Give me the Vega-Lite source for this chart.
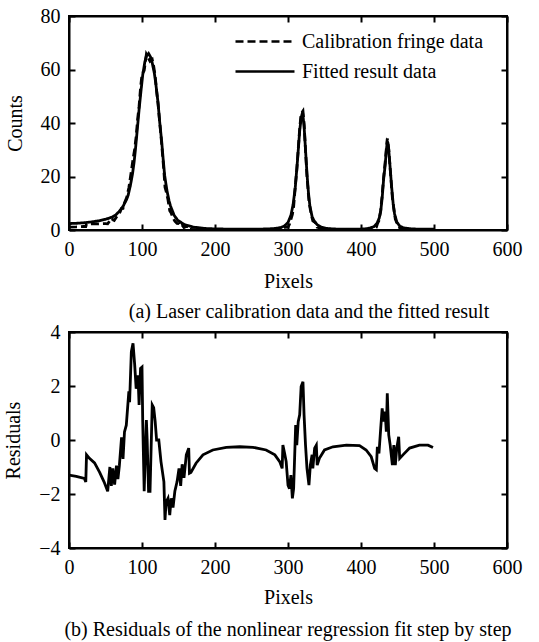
{
  "$schema": "https://vega.github.io/schema/vega-lite/v6.json",
  "background": "white",
  "padding": {"left": 2, "top": 5, "right": 5, "bottom": 3},
  "spacing": -2,
  "config": {
    "view": {"stroke": "black", "strokeWidth": 2},
    "font": "Liberation Serif",
    "axis": {
      "grid": false,
      "domainColor": "black",
      "domainWidth": 2,
      "tickColor": "black",
      "tickWidth": 2,
      "tickSize": -6,
      "labelFlush": false,
      "labelFont": "Liberation Serif",
      "labelFontSize": 20,
      "labelColor": "black",
      "labelPadding": 15,
      "titleFont": "Liberation Serif",
      "titleFontSize": 20,
      "titleFontWeight": "normal",
      "titleColor": "black"
    },
    "legend": {
      "labelFont": "Liberation Serif",
      "labelFontSize": 20,
      "labelColor": "black",
      "labelLimit": 0
    },
    "title": {
      "font": "Liberation Serif",
      "fontSize": 20,
      "fontWeight": "normal",
      "color": "black"
    }
  },
  "datasets": {
    "spectrum": [
      {"pixel": 0, "counts": 1.1, "series": "Calibration fringe data"},
      {"pixel": 10, "counts": 1.15, "series": "Calibration fringe data"},
      {"pixel": 20, "counts": 1.3, "series": "Calibration fringe data"},
      {"pixel": 23, "counts": 1.25, "series": "Calibration fringe data"},
      {"pixel": 24, "counts": 2.25, "series": "Calibration fringe data"},
      {"pixel": 30, "counts": 2.3, "series": "Calibration fringe data"},
      {"pixel": 40, "counts": 2.3, "series": "Calibration fringe data"},
      {"pixel": 50, "counts": 2.4, "series": "Calibration fringe data"},
      {"pixel": 53, "counts": 2.3, "series": "Calibration fringe data"},
      {"pixel": 56, "counts": 3.5, "series": "Calibration fringe data"},
      {"pixel": 58, "counts": 3.0, "series": "Calibration fringe data"},
      {"pixel": 60, "counts": 3.85, "series": "Calibration fringe data"},
      {"pixel": 62, "counts": 3.55, "series": "Calibration fringe data"},
      {"pixel": 65, "counts": 4.85, "series": "Calibration fringe data"},
      {"pixel": 69, "counts": 6.05, "series": "Calibration fringe data"},
      {"pixel": 72, "counts": 8.1, "series": "Calibration fringe data"},
      {"pixel": 74, "counts": 8.1, "series": "Calibration fringe data"},
      {"pixel": 76, "counts": 10.1, "series": "Calibration fringe data"},
      {"pixel": 79, "counts": 12.1, "series": "Calibration fringe data"},
      {"pixel": 82, "counts": 15.8, "series": "Calibration fringe data"},
      {"pixel": 85, "counts": 21.3, "series": "Calibration fringe data"},
      {"pixel": 88, "counts": 27, "series": "Calibration fringe data"},
      {"pixel": 90, "counts": 30.3, "series": "Calibration fringe data"},
      {"pixel": 92, "counts": 35, "series": "Calibration fringe data"},
      {"pixel": 94, "counts": 41.4, "series": "Calibration fringe data"},
      {"pixel": 96, "counts": 46.3, "series": "Calibration fringe data"},
      {"pixel": 98, "counts": 53.1, "series": "Calibration fringe data"},
      {"pixel": 100, "counts": 58.2, "series": "Calibration fringe data"},
      {"pixel": 101, "counts": 58.7, "series": "Calibration fringe data"},
      {"pixel": 103, "counts": 59.6, "series": "Calibration fringe data"},
      {"pixel": 106, "counts": 65.7, "series": "Calibration fringe data"},
      {"pixel": 109, "counts": 64.1, "series": "Calibration fringe data"},
      {"pixel": 111, "counts": 63.1, "series": "Calibration fringe data"},
      {"pixel": 114, "counts": 63.8, "series": "Calibration fringe data"},
      {"pixel": 116, "counts": 61.2, "series": "Calibration fringe data"},
      {"pixel": 118, "counts": 57.7, "series": "Calibration fringe data"},
      {"pixel": 120, "counts": 52, "series": "Calibration fringe data"},
      {"pixel": 122, "counts": 47.1, "series": "Calibration fringe data"},
      {"pixel": 126, "counts": 35.2, "series": "Calibration fringe data"},
      {"pixel": 130, "counts": 22, "series": "Calibration fringe data"},
      {"pixel": 131.5, "counts": 16, "series": "Calibration fringe data"},
      {"pixel": 133, "counts": 14.5, "series": "Calibration fringe data"},
      {"pixel": 135.6, "counts": 11.3, "series": "Calibration fringe data"},
      {"pixel": 138, "counts": 7.2, "series": "Calibration fringe data"},
      {"pixel": 140, "counts": 6.3, "series": "Calibration fringe data"},
      {"pixel": 142.5, "counts": 4.5, "series": "Calibration fringe data"},
      {"pixel": 145, "counts": 3.3, "series": "Calibration fringe data"},
      {"pixel": 148, "counts": 2.45, "series": "Calibration fringe data"},
      {"pixel": 150.7, "counts": 2.35, "series": "Calibration fringe data"},
      {"pixel": 153, "counts": 1.3, "series": "Calibration fringe data"},
      {"pixel": 155, "counts": 1.8, "series": "Calibration fringe data"},
      {"pixel": 157.5, "counts": 0.9, "series": "Calibration fringe data"},
      {"pixel": 160.7, "counts": 1.3, "series": "Calibration fringe data"},
      {"pixel": 164, "counts": 1.2, "series": "Calibration fringe data"},
      {"pixel": 165, "counts": 0.2, "series": "Calibration fringe data"},
      {"pixel": 174, "counts": 0.1, "series": "Calibration fringe data"},
      {"pixel": 183.5, "counts": 0.1, "series": "Calibration fringe data"},
      {"pixel": 197, "counts": 0.05, "series": "Calibration fringe data"},
      {"pixel": 215, "counts": 0.08, "series": "Calibration fringe data"},
      {"pixel": 250, "counts": 0.03, "series": "Calibration fringe data"},
      {"pixel": 282, "counts": 0, "series": "Calibration fringe data"},
      {"pixel": 289, "counts": 0, "series": "Calibration fringe data"},
      {"pixel": 292, "counts": 0.05, "series": "Calibration fringe data"},
      {"pixel": 293, "counts": 1.0, "series": "Calibration fringe data"},
      {"pixel": 295.4, "counts": 1.0, "series": "Calibration fringe data"},
      {"pixel": 300, "counts": 1.1, "series": "Calibration fringe data"},
      {"pixel": 302, "counts": 2.2, "series": "Calibration fringe data"},
      {"pixel": 306, "counts": 5.8, "series": "Calibration fringe data"},
      {"pixel": 307.7, "counts": 8.7, "series": "Calibration fringe data"},
      {"pixel": 310.5, "counts": 18, "series": "Calibration fringe data"},
      {"pixel": 312, "counts": 22.3, "series": "Calibration fringe data"},
      {"pixel": 314, "counts": 30.2, "series": "Calibration fringe data"},
      {"pixel": 316, "counts": 37.9, "series": "Calibration fringe data"},
      {"pixel": 318, "counts": 43.5, "series": "Calibration fringe data"},
      {"pixel": 320.5, "counts": 44.5, "series": "Calibration fringe data"},
      {"pixel": 322, "counts": 39.9, "series": "Calibration fringe data"},
      {"pixel": 324, "counts": 29.8, "series": "Calibration fringe data"},
      {"pixel": 326, "counts": 20, "series": "Calibration fringe data"},
      {"pixel": 328.7, "counts": 10.8, "series": "Calibration fringe data"},
      {"pixel": 330.6, "counts": 7.6, "series": "Calibration fringe data"},
      {"pixel": 333, "counts": 4.5, "series": "Calibration fringe data"},
      {"pixel": 334, "counts": 3.45, "series": "Calibration fringe data"},
      {"pixel": 336.5, "counts": 3.0, "series": "Calibration fringe data"},
      {"pixel": 338.8, "counts": 2.3, "series": "Calibration fringe data"},
      {"pixel": 340, "counts": 1.07, "series": "Calibration fringe data"},
      {"pixel": 343, "counts": 0.8, "series": "Calibration fringe data"},
      {"pixel": 350, "counts": 0.43, "series": "Calibration fringe data"},
      {"pixel": 361.6, "counts": 0.2, "series": "Calibration fringe data"},
      {"pixel": 380, "counts": 0.1, "series": "Calibration fringe data"},
      {"pixel": 407, "counts": 0.08, "series": "Calibration fringe data"},
      {"pixel": 414, "counts": 0.23, "series": "Calibration fringe data"},
      {"pixel": 418.7, "counts": 0.35, "series": "Calibration fringe data"},
      {"pixel": 421, "counts": 1.0, "series": "Calibration fringe data"},
      {"pixel": 422.4, "counts": 2.25, "series": "Calibration fringe data"},
      {"pixel": 424.6, "counts": 3.5, "series": "Calibration fringe data"},
      {"pixel": 427, "counts": 7.4, "series": "Calibration fringe data"},
      {"pixel": 429, "counts": 13.2, "series": "Calibration fringe data"},
      {"pixel": 431, "counts": 19.7, "series": "Calibration fringe data"},
      {"pixel": 433, "counts": 25, "series": "Calibration fringe data"},
      {"pixel": 434.7, "counts": 30.3, "series": "Calibration fringe data"},
      {"pixel": 436, "counts": 34.2, "series": "Calibration fringe data"},
      {"pixel": 438, "counts": 30.2, "series": "Calibration fringe data"},
      {"pixel": 440, "counts": 22.8, "series": "Calibration fringe data"},
      {"pixel": 443, "counts": 12, "series": "Calibration fringe data"},
      {"pixel": 445, "counts": 7.8, "series": "Calibration fringe data"},
      {"pixel": 447, "counts": 4.1, "series": "Calibration fringe data"},
      {"pixel": 449, "counts": 2.7, "series": "Calibration fringe data"},
      {"pixel": 451.6, "counts": 2.1, "series": "Calibration fringe data"},
      {"pixel": 453, "counts": 0.8, "series": "Calibration fringe data"},
      {"pixel": 457.5, "counts": 0.3, "series": "Calibration fringe data"},
      {"pixel": 466.6, "counts": 0.15, "series": "Calibration fringe data"},
      {"pixel": 480, "counts": 0.11, "series": "Calibration fringe data"},
      {"pixel": 491.8, "counts": 0.11, "series": "Calibration fringe data"},
      {"pixel": 498.6, "counts": 0.02, "series": "Calibration fringe data"},
      {"pixel": 0, "counts": 2.4, "series": "Fitted result data"},
      {"pixel": 10, "counts": 2.5, "series": "Fitted result data"},
      {"pixel": 20, "counts": 2.7, "series": "Fitted result data"},
      {"pixel": 30, "counts": 3.0, "series": "Fitted result data"},
      {"pixel": 40, "counts": 3.4, "series": "Fitted result data"},
      {"pixel": 50, "counts": 4.0, "series": "Fitted result data"},
      {"pixel": 59, "counts": 4.8, "series": "Fitted result data"},
      {"pixel": 64, "counts": 5.6, "series": "Fitted result data"},
      {"pixel": 69, "counts": 7, "series": "Fitted result data"},
      {"pixel": 74, "counts": 8.8, "series": "Fitted result data"},
      {"pixel": 79, "counts": 11.5, "series": "Fitted result data"},
      {"pixel": 81, "counts": 13, "series": "Fitted result data"},
      {"pixel": 84, "counts": 16.5, "series": "Fitted result data"},
      {"pixel": 87, "counts": 21, "series": "Fitted result data"},
      {"pixel": 89, "counts": 25, "series": "Fitted result data"},
      {"pixel": 91, "counts": 30, "series": "Fitted result data"},
      {"pixel": 93, "counts": 36, "series": "Fitted result data"},
      {"pixel": 96, "counts": 45, "series": "Fitted result data"},
      {"pixel": 99, "counts": 53, "series": "Fitted result data"},
      {"pixel": 101, "counts": 58, "series": "Fitted result data"},
      {"pixel": 104, "counts": 63, "series": "Fitted result data"},
      {"pixel": 106, "counts": 65, "series": "Fitted result data"},
      {"pixel": 109, "counts": 66, "series": "Fitted result data"},
      {"pixel": 112, "counts": 64.5, "series": "Fitted result data"},
      {"pixel": 114, "counts": 62.5, "series": "Fitted result data"},
      {"pixel": 117, "counts": 58.5, "series": "Fitted result data"},
      {"pixel": 119, "counts": 54.5, "series": "Fitted result data"},
      {"pixel": 122, "counts": 47.5, "series": "Fitted result data"},
      {"pixel": 124, "counts": 41, "series": "Fitted result data"},
      {"pixel": 127, "counts": 33, "series": "Fitted result data"},
      {"pixel": 129, "counts": 26.5, "series": "Fitted result data"},
      {"pixel": 131, "counts": 20.5, "series": "Fitted result data"},
      {"pixel": 134, "counts": 15, "series": "Fitted result data"},
      {"pixel": 137, "counts": 11, "series": "Fitted result data"},
      {"pixel": 139, "counts": 9, "series": "Fitted result data"},
      {"pixel": 144, "counts": 5.5, "series": "Fitted result data"},
      {"pixel": 149, "counts": 3.6, "series": "Fitted result data"},
      {"pixel": 159, "counts": 1.9, "series": "Fitted result data"},
      {"pixel": 170, "counts": 1.1, "series": "Fitted result data"},
      {"pixel": 185, "counts": 0.6, "series": "Fitted result data"},
      {"pixel": 200, "counts": 0.4, "series": "Fitted result data"},
      {"pixel": 230, "counts": 0.3, "series": "Fitted result data"},
      {"pixel": 260, "counts": 0.3, "series": "Fitted result data"},
      {"pixel": 280, "counts": 0.5, "series": "Fitted result data"},
      {"pixel": 290, "counts": 0.9, "series": "Fitted result data"},
      {"pixel": 295, "counts": 1.5, "series": "Fitted result data"},
      {"pixel": 300, "counts": 2.8, "series": "Fitted result data"},
      {"pixel": 304, "counts": 5.5, "series": "Fitted result data"},
      {"pixel": 307, "counts": 9.5, "series": "Fitted result data"},
      {"pixel": 310, "counts": 16, "series": "Fitted result data"},
      {"pixel": 313, "counts": 26, "series": "Fitted result data"},
      {"pixel": 316, "counts": 37, "series": "Fitted result data"},
      {"pixel": 318, "counts": 42, "series": "Fitted result data"},
      {"pixel": 320, "counts": 44, "series": "Fitted result data"},
      {"pixel": 322, "counts": 39, "series": "Fitted result data"},
      {"pixel": 324, "counts": 30, "series": "Fitted result data"},
      {"pixel": 326, "counts": 21, "series": "Fitted result data"},
      {"pixel": 328, "counts": 14, "series": "Fitted result data"},
      {"pixel": 330, "counts": 9, "series": "Fitted result data"},
      {"pixel": 333, "counts": 5, "series": "Fitted result data"},
      {"pixel": 336, "counts": 3.3, "series": "Fitted result data"},
      {"pixel": 340, "counts": 2, "series": "Fitted result data"},
      {"pixel": 346, "counts": 1, "series": "Fitted result data"},
      {"pixel": 355, "counts": 0.5, "series": "Fitted result data"},
      {"pixel": 370, "counts": 0.3, "series": "Fitted result data"},
      {"pixel": 390, "counts": 0.3, "series": "Fitted result data"},
      {"pixel": 405, "counts": 0.4, "series": "Fitted result data"},
      {"pixel": 412, "counts": 0.7, "series": "Fitted result data"},
      {"pixel": 418, "counts": 1.3, "series": "Fitted result data"},
      {"pixel": 422, "counts": 2.5, "series": "Fitted result data"},
      {"pixel": 425, "counts": 4.5, "series": "Fitted result data"},
      {"pixel": 427, "counts": 7, "series": "Fitted result data"},
      {"pixel": 429, "counts": 12, "series": "Fitted result data"},
      {"pixel": 431, "counts": 19, "series": "Fitted result data"},
      {"pixel": 433, "counts": 24, "series": "Fitted result data"},
      {"pixel": 435, "counts": 30.5, "series": "Fitted result data"},
      {"pixel": 436, "counts": 33, "series": "Fitted result data"},
      {"pixel": 437, "counts": 32.5, "series": "Fitted result data"},
      {"pixel": 438, "counts": 30, "series": "Fitted result data"},
      {"pixel": 440, "counts": 23, "series": "Fitted result data"},
      {"pixel": 442, "counts": 16, "series": "Fitted result data"},
      {"pixel": 444, "counts": 10, "series": "Fitted result data"},
      {"pixel": 446, "counts": 6, "series": "Fitted result data"},
      {"pixel": 449, "counts": 3, "series": "Fitted result data"},
      {"pixel": 453, "counts": 1.5, "series": "Fitted result data"},
      {"pixel": 458, "counts": 0.8, "series": "Fitted result data"},
      {"pixel": 470, "counts": 0.4, "series": "Fitted result data"},
      {"pixel": 485, "counts": 0.3, "series": "Fitted result data"},
      {"pixel": 500, "counts": 0.3, "series": "Fitted result data"}
    ],
    "residuals": [
      {"pixel": 0, "residual": -1.3}, {"pixel": 10, "residual": -1.35}, {"pixel": 21, "residual": -1.42},
      {"pixel": 23, "residual": -1.55}, {"pixel": 24, "residual": -0.55}, {"pixel": 28, "residual": -0.68},
      {"pixel": 35, "residual": -0.85}, {"pixel": 42, "residual": -1.2}, {"pixel": 48, "residual": -1.55},
      {"pixel": 53, "residual": -1.9}, {"pixel": 56, "residual": -1.0}, {"pixel": 58, "residual": -1.7},
      {"pixel": 60, "residual": -1.05}, {"pixel": 62.5, "residual": -1.65}, {"pixel": 65, "residual": -0.95},
      {"pixel": 67, "residual": -1.45}, {"pixel": 69, "residual": -0.95}, {"pixel": 72, "residual": 0.1},
      {"pixel": 74, "residual": -0.7}, {"pixel": 76, "residual": 0.3}, {"pixel": 78.5, "residual": 0.55},
      {"pixel": 82, "residual": 1.8}, {"pixel": 83, "residual": 1.4}, {"pixel": 85.4, "residual": 3.27},
      {"pixel": 87.7, "residual": 3.58}, {"pixel": 90, "residual": 2.78}, {"pixel": 92, "residual": 1.9},
      {"pixel": 94.5, "residual": 2.4}, {"pixel": 96, "residual": 1.3}, {"pixel": 98, "residual": 2.65},
      {"pixel": 100, "residual": 2.7}, {"pixel": 101, "residual": 0.68}, {"pixel": 103, "residual": -1.9},
      {"pixel": 106, "residual": 0.74}, {"pixel": 107, "residual": 0.06}, {"pixel": 109, "residual": -1.9},
      {"pixel": 111, "residual": -1.9}, {"pixel": 114, "residual": 1.3}, {"pixel": 116, "residual": 1.2},
      {"pixel": 118, "residual": 0.7}, {"pixel": 120, "residual": 0}, {"pixel": 123, "residual": 0},
      {"pixel": 126, "residual": -0.8}, {"pixel": 130, "residual": -1.55}, {"pixel": 131.5, "residual": -2.96},
      {"pixel": 133, "residual": -2.3}, {"pixel": 135.6, "residual": -2.16}, {"pixel": 138, "residual": -2.78},
      {"pixel": 140, "residual": -2.16}, {"pixel": 142.5, "residual": -2.5}, {"pixel": 145, "residual": -1.9},
      {"pixel": 148, "residual": -1.55}, {"pixel": 150.7, "residual": -1.05}, {"pixel": 153, "residual": -1.7},
      {"pixel": 155, "residual": -0.9}, {"pixel": 157.5, "residual": -1.4}, {"pixel": 160.7, "residual": -0.55},
      {"pixel": 164, "residual": -0.3}, {"pixel": 165, "residual": -1.23}, {"pixel": 167, "residual": -1.2},
      {"pixel": 174, "residual": -0.86}, {"pixel": 183.5, "residual": -0.55}, {"pixel": 197, "residual": -0.37},
      {"pixel": 215.5, "residual": -0.27}, {"pixel": 234, "residual": -0.25}, {"pixel": 252, "residual": -0.27},
      {"pixel": 270, "residual": -0.37}, {"pixel": 282, "residual": -0.55}, {"pixel": 288.6, "residual": -0.8},
      {"pixel": 292, "residual": -1.05}, {"pixel": 293, "residual": -0.19}, {"pixel": 295.4, "residual": -0.5},
      {"pixel": 297.5, "residual": -0.8}, {"pixel": 300, "residual": -1.67}, {"pixel": 302, "residual": -1.8},
      {"pixel": 304, "residual": -1.3}, {"pixel": 306, "residual": -2.16}, {"pixel": 307.7, "residual": -1.8},
      {"pixel": 310.5, "residual": 0.55}, {"pixel": 312, "residual": -0.19}, {"pixel": 314, "residual": 0.68},
      {"pixel": 316, "residual": 0.93}, {"pixel": 318, "residual": 1.98}, {"pixel": 320.5, "residual": 2.16},
      {"pixel": 322, "residual": 0.93}, {"pixel": 324, "residual": -0.19}, {"pixel": 326, "residual": -1.05},
      {"pixel": 328.7, "residual": -1.67}, {"pixel": 330.6, "residual": -0.93}, {"pixel": 333, "residual": -0.55},
      {"pixel": 334, "residual": -1.05}, {"pixel": 336.5, "residual": -0.3}, {"pixel": 338.8, "residual": -0.19},
      {"pixel": 340, "residual": -0.93}, {"pixel": 343, "residual": -0.68}, {"pixel": 350, "residual": -0.37},
      {"pixel": 361.6, "residual": -0.25}, {"pixel": 380, "residual": -0.19}, {"pixel": 398, "residual": -0.21},
      {"pixel": 407, "residual": -0.37}, {"pixel": 414, "residual": -0.62}, {"pixel": 418.7, "residual": -1.05},
      {"pixel": 421, "residual": -1.1}, {"pixel": 422.4, "residual": -0.25}, {"pixel": 424.6, "residual": -0.5},
      {"pixel": 427, "residual": 0.43}, {"pixel": 429, "residual": 1.17}, {"pixel": 431, "residual": 0.68},
      {"pixel": 433, "residual": 1.05}, {"pixel": 434.7, "residual": 0.31}, {"pixel": 436, "residual": 1.73},
      {"pixel": 438, "residual": 0.19}, {"pixel": 440, "residual": -0.19}, {"pixel": 443, "residual": -0.93},
      {"pixel": 445, "residual": -0.19}, {"pixel": 447, "residual": -0.93}, {"pixel": 449, "residual": -0.3},
      {"pixel": 451.6, "residual": 0.12}, {"pixel": 453, "residual": -0.68}, {"pixel": 457.5, "residual": -0.55},
      {"pixel": 466.6, "residual": -0.3}, {"pixel": 480, "residual": -0.19}, {"pixel": 491.8, "residual": -0.19},
      {"pixel": 498.6, "residual": -0.28}
    ]
  },
  "vconcat": [
    {
      "width": 438,
      "height": 214,
      "title": {"text": "(a) Laser calibration data and the fitted result", "orient": "bottom", "offset": 11, "dx": 21},
      "layer": [
        {
          "data": {"name": "spectrum"},
          "mark": {"type": "line", "color": "black", "strokeWidth": 2.8, "clip": true},
          "encoding": {
            "x": {"field": "pixel", "type": "quantitative", "scale": {"domain": [0, 600], "nice": false},
                  "axis": {"values": [0, 100, 200, 300, 400, 500, 600], "title": "Pixels", "titlePadding": 12}},
            "y": {"field": "counts", "type": "quantitative", "scale": {"domain": [0, 80], "nice": false},
                  "axis": {"values": [0, 20, 40, 60, 80], "title": "Counts", "titlePadding": 15}},
            "strokeDash": {"field": "series", "type": "nominal",
                  "scale": {"domain": ["Calibration fringe data", "Fitted result data"], "range": [[8, 4], [1, 0]]},
                  "legend": {"title": null, "orient": "none", "legendX": 184.5, "legendY": 14, "padding": 0,
                             "symbolType": "M-2.95,0H2.95", "symbolSize": 400, "symbolStrokeWidth": 2.5,
                             "symbolStrokeColor": "black", "symbolFillColor": "transparent",
                             "labelOffset": 25.5, "rowPadding": 8, "labelFontSize": 20}}
          }
        },
        {
          "data": {"name": "spectrum"},
          "mark": {"type": "line", "opacity": 0},
          "encoding": {
            "x": {"field": "pixel", "type": "quantitative", "scale": {"domain": [0, 600], "nice": false},
                  "axis": {"orient": "top", "values": [0, 100, 200, 300, 400, 500, 600], "labels": false, "title": null}},
            "y": {"field": "counts", "type": "quantitative", "scale": {"domain": [0, 80], "nice": false},
                  "axis": {"orient": "right", "values": [0, 20, 40, 60, 80], "labels": false, "title": null}},
            "detail": {"field": "series"}
          }
        }
      ],
      "resolve": {"scale": {"x": "independent", "y": "independent"}}
    },
    {
      "width": 438,
      "height": 216,
      "title": {"text": "(b) Residuals of the nonlinear regression fit step by step", "orient": "bottom", "offset": 13},
      "layer": [
        {
          "data": {"name": "residuals"},
          "mark": {"type": "line", "color": "black", "strokeWidth": 2.8, "clip": true},
          "encoding": {
            "x": {"field": "pixel", "type": "quantitative", "scale": {"domain": [0, 600], "nice": false},
                  "axis": {"values": [0, 100, 200, 300, 400, 500, 600], "title": "Pixels", "titlePadding": 10}},
            "y": {"field": "residual", "type": "quantitative", "scale": {"domain": [-4, 4], "nice": false},
                  "axis": {"values": [-4, -2, 0, 2, 4], "title": "Residuals", "titlePadding": 15}}
          }
        },
        {
          "data": {"name": "residuals"},
          "mark": {"type": "line", "opacity": 0},
          "encoding": {
            "x": {"field": "pixel", "type": "quantitative", "scale": {"domain": [0, 600], "nice": false},
                  "axis": {"orient": "top", "values": [0, 100, 200, 300, 400, 500, 600], "labels": false, "title": null}},
            "y": {"field": "residual", "type": "quantitative", "scale": {"domain": [-4, 4], "nice": false},
                  "axis": {"orient": "right", "values": [-4, -2, 0, 2, 4], "labels": false, "title": null}}
          }
        }
      ],
      "resolve": {"scale": {"x": "independent", "y": "independent"}}
    }
  ]
}
